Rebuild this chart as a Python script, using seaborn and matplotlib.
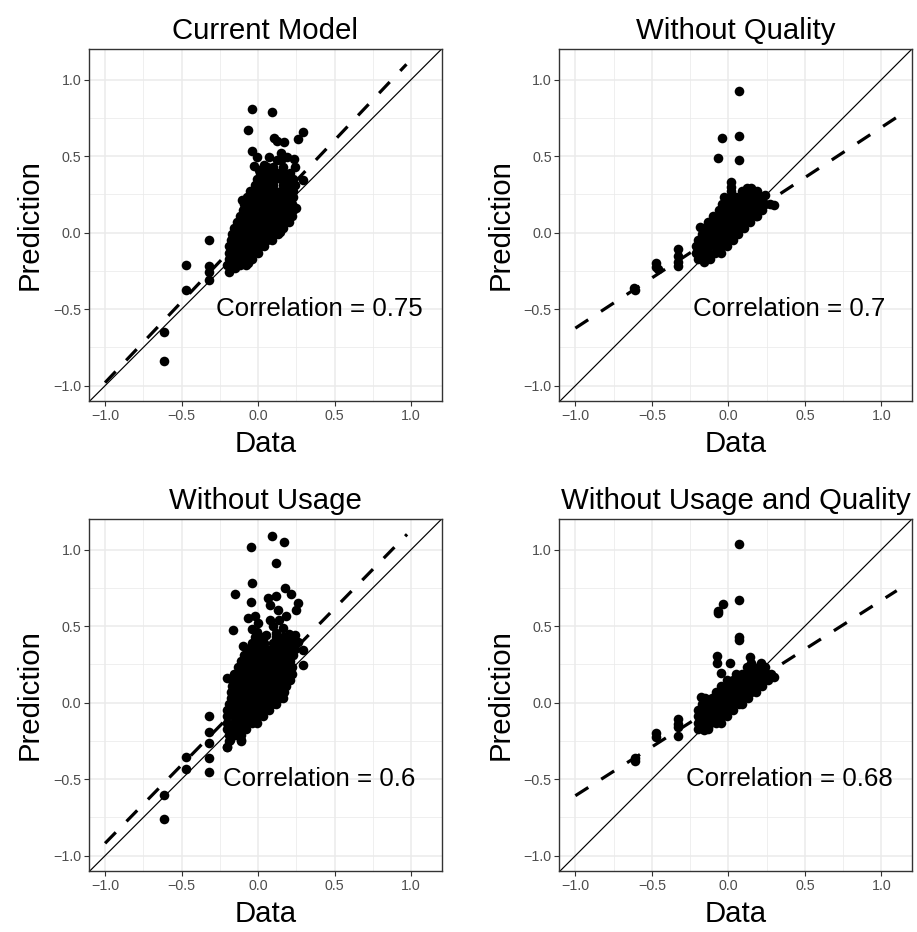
import matplotlib
matplotlib.use("Agg")
import matplotlib.pyplot as plt
import pandas as pd
import seaborn as sns

# ---------------- data ----------------
panel_titles = ["Current Model", "Without Quality", "Without Usage", "Without Usage and Quality"]
correlations = ["0.75", "0.7", "0.6", "0.68"]
fit_slopes = [1.056, 0.656, 1.023, 0.638]
fit_intercepts = [0.076, 0.032, 0.104, 0.030]
tick_values = [-1.0, -0.5, 0.0, 0.5, 1.0]
tick_labels = ["\u22121.0", "\u22120.5", "0.0", "0.5", "1.0"]
minor_values = [-0.75, -0.25, 0.25, 0.75]

# Current Model: scattered points
cm_x = [-0.037, 0.088, -0.067, 0.296, 0.263, 0.106, 0.122, 0.172, -0.037, -0.009, 0.072, 0.150,
        0.187, 0.237, -0.024, 0.041, 0.009, 0.150, 0.241, 0.296, 0.250, -0.106, -0.050, 0.122,
        -0.324, -0.470, -0.470, -0.320, -0.320, -0.320, -0.613, -0.613, -0.191, -0.063, -0.004,
        0.146, -0.150]
cm_y = [0.807, 0.786, 0.670, 0.659, 0.610, 0.620, 0.598, 0.590, 0.535, 0.496, 0.496, 0.518,
        0.496, 0.481, 0.435, 0.442, 0.409, 0.474, 0.431, 0.344, 0.159, 0.213, 0.250, 0.474,
        -0.048, -0.211, -0.374, -0.220, -0.260, -0.310, -0.646, -0.837, -0.254, -0.200, -0.117,
        0.007, -0.230]
# Current Model: dense core, rows of (y: x values)
cm_core = {
    -0.21: [-0.20, -0.16, -0.12, -0.08],
    -0.17: [-0.19, -0.15, -0.11, -0.07, -0.04],
    -0.13: [-0.19, -0.15, -0.11, -0.07, -0.03, 0.00],
    -0.09: [-0.19, -0.15, -0.11, -0.07, -0.03, 0.01, 0.04],
    -0.05: [-0.18, -0.14, -0.10, -0.06, -0.02, 0.02, 0.06, 0.09],
    -0.01: [-0.17, -0.13, -0.09, -0.05, -0.01, 0.03, 0.07, 0.11, 0.13],
    0.03: [-0.16, -0.12, -0.08, -0.04, 0.00, 0.04, 0.08, 0.12, 0.16],
    0.07: [-0.14, -0.10, -0.06, -0.02, 0.02, 0.06, 0.10, 0.14, 0.18, 0.20],
    0.11: [-0.12, -0.08, -0.04, 0.00, 0.04, 0.08, 0.12, 0.16, 0.20, 0.22],
    0.15: [-0.10, -0.06, -0.02, 0.02, 0.06, 0.10, 0.14, 0.18, 0.22, 0.23],
    0.19: [-0.09, -0.05, -0.01, 0.03, 0.07, 0.11, 0.15, 0.19, 0.22],
    0.23: [-0.07, -0.03, 0.01, 0.05, 0.09, 0.13, 0.17, 0.21, 0.23],
    0.27: [-0.05, -0.01, 0.03, 0.07, 0.11, 0.15, 0.19, 0.23],
    0.31: [-0.02, 0.02, 0.06, 0.10, 0.16, 0.20, 0.24],
    0.35: [-0.01, 0.03, 0.07, 0.11, 0.15, 0.19, 0.23],
    0.39: [0.01, 0.05, 0.09, 0.13, 0.17, 0.21],
    0.43: [0.06, 0.10, 0.16],
}

# Without Quality
wq_x = [0.070, -0.039, 0.070, -0.065, 0.070, 0.018, 0.015, 0.015,
        -0.620, -0.610, -0.472, -0.472, -0.460, -0.326, -0.326, -0.326, -0.326,
        -0.185, -0.108, -0.141, 0.300, 0.240, -0.159]
wq_y = [0.925, 0.616, 0.631, 0.490, 0.475, 0.333, 0.300, 0.270,
        -0.360, -0.375, -0.200, -0.225, -0.240, -0.110, -0.150, -0.190, -0.215,
        0.040, 0.065, -0.157, 0.180, 0.245, -0.190]
wq_core = {
    -0.17: [-0.20, -0.16, -0.12],
    -0.13: [-0.21, -0.17, -0.13, -0.09, -0.05],
    -0.09: [-0.21, -0.17, -0.13, -0.09, -0.05, -0.01],
    -0.05: [-0.20, -0.16, -0.12, -0.08, -0.04, 0.00, 0.03],
    -0.01: [-0.17, -0.13, -0.09, -0.05, -0.01, 0.03, 0.06],
    0.03: [-0.16, -0.12, -0.08, -0.04, 0.00, 0.04, 0.08, 0.10],
    0.07: [-0.13, -0.09, -0.05, -0.01, 0.03, 0.07, 0.11, 0.14],
    0.11: [-0.10, -0.06, -0.02, 0.02, 0.06, 0.10, 0.14, 0.18, 0.19],
    0.15: [-0.06, -0.02, 0.02, 0.06, 0.10, 0.14, 0.18, 0.22],
    0.19: [-0.04, 0.00, 0.04, 0.08, 0.12, 0.16, 0.20, 0.24, 0.27],
    0.23: [-0.03, 0.01, 0.05, 0.09, 0.13, 0.17, 0.21],
    0.27: [0.09, 0.13, 0.17, 0.19],
    0.29: [0.12, 0.15],
}

# Without Usage
wu_x = [-0.046, 0.090, 0.168, 0.118, -0.042, -0.152, 0.175, 0.212, -0.048, 0.065, 0.115, 0.262,
        0.250, 0.080, 0.132, 0.180, -0.068, -0.020, 0.076, 0.137, -0.162, -0.043, 0.054, 0.120,
        0.240, 0.262, 0.294, 0.294, -0.098, -0.204, 0.000, 0.100, 0.160, 0.200, -0.010,
        -0.320, -0.320, -0.320, -0.320, -0.320, -0.470, -0.470, -0.613, -0.613, -0.204, -0.111,
        -0.183]
wu_y = [1.015, 1.092, 1.050, 0.910, 0.782, 0.708, 0.748, 0.710, 0.657, 0.685, 0.695, 0.648,
        0.607, 0.638, 0.607, 0.568, 0.553, 0.568, 0.543, 0.539, 0.476, 0.478, 0.440, 0.457,
        0.440, 0.397, 0.345, 0.245, 0.370, 0.159, 0.520, 0.500, 0.490, 0.450, 0.460,
        -0.090, -0.194, -0.261, -0.364, -0.455, -0.357, -0.436, -0.601, -0.763, -0.292, -0.244,
        -0.244]
wu_core = {
    -0.29: [-0.20],
    -0.25: [-0.19, -0.11],
    -0.21: [-0.19, -0.15, -0.11],
    -0.17: [-0.20, -0.16, -0.12, -0.08],
    -0.13: [-0.20, -0.16, -0.12, -0.08, -0.04, -0.01],
    -0.09: [-0.20, -0.16, -0.12, -0.08, -0.04, 0.00, 0.03],
    -0.05: [-0.20, -0.16, -0.12, -0.08, -0.04, 0.00, 0.04, 0.07],
    -0.01: [-0.19, -0.15, -0.11, -0.07, -0.03, 0.01, 0.05, 0.09, 0.12],
    0.03: [-0.18, -0.14, -0.10, -0.06, -0.02, 0.02, 0.06, 0.10, 0.14, 0.16],
    0.07: [-0.18, -0.14, -0.10, -0.06, -0.02, 0.02, 0.06, 0.10, 0.14, 0.17],
    0.11: [-0.17, -0.13, -0.09, -0.05, -0.01, 0.03, 0.07, 0.11, 0.15, 0.18],
    0.15: [-0.17, -0.13, -0.09, -0.05, -0.01, 0.03, 0.07, 0.11, 0.15, 0.19, 0.21],
    0.19: [-0.16, -0.12, -0.08, -0.04, 0.00, 0.04, 0.08, 0.12, 0.16, 0.20, 0.22],
    0.23: [-0.13, -0.09, -0.05, -0.01, 0.03, 0.07, 0.11, 0.15, 0.19, 0.22],
    0.27: [-0.11, -0.07, -0.03, 0.01, 0.05, 0.09, 0.13, 0.17, 0.21],
    0.31: [-0.09, -0.05, -0.01, 0.03, 0.07, 0.11, 0.15, 0.19, 0.23],
    0.35: [-0.07, -0.03, 0.01, 0.05, 0.09, 0.13, 0.17, 0.21, 0.24],
    0.39: [-0.04, 0.00, 0.04, 0.10, 0.14, 0.18, 0.22],
    0.43: [-0.02, 0.02, 0.12, 0.16, 0.20],
}

# Without Usage and Quality
wuq_x = [0.070, 0.070, -0.037, -0.070, -0.065, 0.070, 0.070, -0.075, -0.075, 0.009, -0.045,
         0.141, 0.298, -0.326, -0.326, -0.326, -0.326, -0.474, -0.474, -0.609, -0.613,
         -0.178, -0.135, -0.159]
wuq_y = [1.035, 0.671, 0.645, 0.588, 0.601, 0.431, 0.410, 0.304, 0.261, 0.261, 0.192,
         0.298, 0.170, -0.107, -0.140, -0.160, -0.215, -0.200, -0.222, -0.379, -0.364,
         0.039, -0.157, -0.178]
wuq_core = {
    -0.17: [-0.20, -0.16, -0.13],
    -0.13: [-0.20, -0.16, -0.12, -0.08, -0.05],
    -0.09: [-0.20, -0.16, -0.12, -0.08, -0.04, -0.01],
    -0.05: [-0.20, -0.16, -0.12, -0.08, -0.04, 0.00, 0.03],
    -0.01: [-0.17, -0.13, -0.09, -0.05, -0.01, 0.03, 0.07, 0.09],
    0.03: [-0.15, -0.11, -0.07, -0.03, 0.01, 0.05, 0.09, 0.13],
    0.07: [-0.08, -0.05, -0.01, 0.03, 0.07, 0.11, 0.15, 0.18],
    0.11: [-0.05, -0.01, 0.03, 0.07, 0.11, 0.15, 0.19, 0.22],
    0.15: [-0.01, 0.03, 0.07, 0.11, 0.15, 0.19, 0.23, 0.26],
    0.19: [0.05, 0.09, 0.13, 0.17, 0.21, 0.25, 0.28],
    0.23: [0.12, 0.16, 0.20, 0.24],
    0.26: [0.15, 0.21],
}

panel_points = [(cm_x, cm_y, cm_core), (wq_x, wq_y, wq_core),
                (wu_x, wu_y, wu_core), (wuq_x, wuq_y, wuq_core)]


def build_frame(xs, ys, core):
    px, py = list(xs), list(ys)
    for yv, row in core.items():
        px.extend(row)
        py.extend([yv] * len(row))
    return pd.DataFrame({"Data": px, "Prediction": py})


# ---------------- style ----------------
sns.set_style("white")
plt.rcParams["font.family"] = ["Liberation Sans", "DejaVu Sans"]

W, H = 917, 932
fig = plt.figure(figsize=(W / 100, H / 100), dpi=100)
fig.patch.set_facecolor("white")

ax_w, ax_h = 352.7, 352.0
lefts = [89.0, 559.3, 89.0, 559.3]
tops = [49.0, 49.0, 519.0, 519.0]

for i in range(4):
    ax = fig.add_axes([lefts[i] / W, 1 - (tops[i] + ax_h) / H, ax_w / W, ax_h / H])
    df = build_frame(*panel_points[i])

    sns.scatterplot(data=df, x="Data", y="Prediction", ax=ax, color="black",
                    s=48, linewidth=0, zorder=3)

    ax.axline((0, 0), slope=1, color="black", lw=0.85, zorder=4)

    m, b = fit_slopes[i], fit_intercepts[i]
    x0 = -1.0
    x1 = min(1.1, (1.1 - b) / m)
    ax.plot([x0, x1], [m * x0 + b, m * x1 + b], color="black", lw=2.3,
            dashes=(4.8, 4.8), solid_capstyle="butt", dash_capstyle="butt", zorder=4)

    ax.text(0.4, -0.5, f"Correlation = {correlations[i]}", ha="center", va="center",
            fontsize=18.6, color="black", zorder=5)

    ax.set_xlim(-1.105, 1.2)
    ax.set_ylim(-1.1, 1.2)
    ax.set_xticks(tick_values, labels=tick_labels)
    ax.set_yticks(tick_values, labels=tick_labels)
    ax.set_xticks(minor_values, minor=True)
    ax.set_yticks(minor_values, minor=True)
    ax.grid(which="major", color="#EBEBEB", lw=1.1, zorder=0)
    ax.grid(which="minor", color="#EBEBEB", lw=0.55, zorder=0)
    ax.set_axisbelow(True)
    ax.tick_params(which="major", length=3.5, width=0.8, color="#333333",
                   labelcolor="#4D4D4D", labelsize=10.3, pad=2,
                   bottom=True, left=True)
    ax.tick_params(which="minor", length=0)
    for sp in ax.spines.values():
        sp.set_color("#333333")
        sp.set_linewidth(1.0)
        sp.set_zorder(6)

    ax.set_xlabel("")
    ax.set_ylabel("")
    ax.text(0.5, 1 + 10 / ax_h, panel_titles[i], transform=ax.transAxes,
            ha="center", va="baseline", fontsize=21.2, color="black")
    ax.text(0.5, -51 / ax_h, "Data", transform=ax.transAxes,
            ha="center", va="baseline", fontsize=21.2, color="black")
    ax.text(-59 / ax_w, 0.5, "Prediction", transform=ax.transAxes, rotation=90,
            ha="center", va="center", fontsize=21.2, color="black")

fig.savefig("out.png", dpi=100, facecolor="white")
